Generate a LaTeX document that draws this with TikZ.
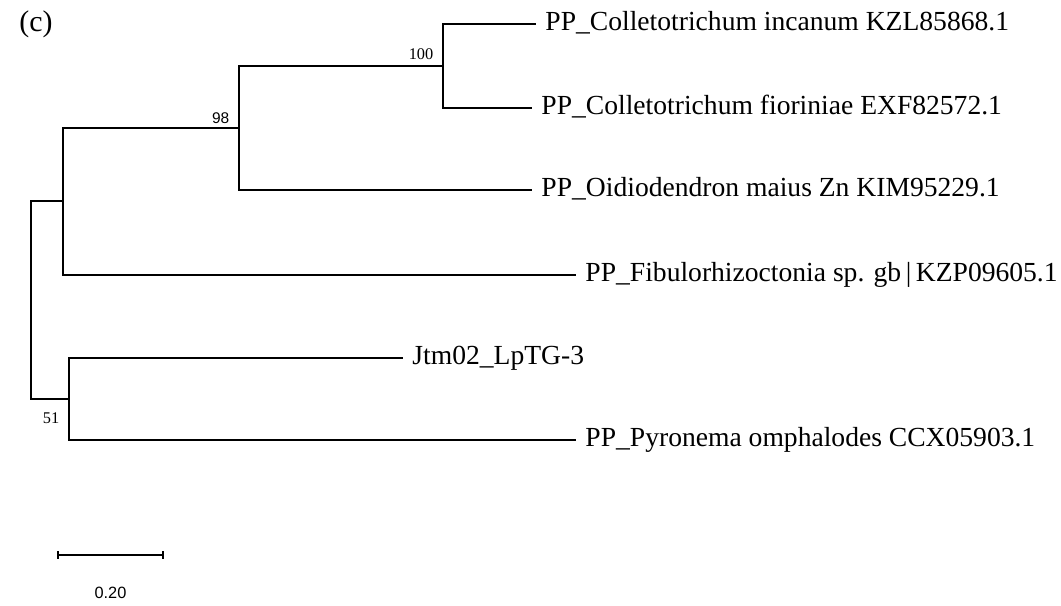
\documentclass[tikz,border=0pt]{standalone}
\usepackage{fontspec}
\setmainfont{Liberation Serif}
\newfontfamily\supportfont{Liberation Sans}
\usepackage{tikz}
\usetikzlibrary{calc}

\begin{document}
\begin{tikzpicture}[
        x=0.02cm, y=-0.02cm,
        line width=0.8pt,
        leaf/.style={anchor=west, inner xsep=5pt, inner ysep=0pt, text height=0.7em, text depth=0pt, font=\fontsize{15.7}{18}\selectfont},
        boot/.style={anchor=base east, inner sep=0pt, font=\fontsize{9.3}{11}\selectfont},
        bootsans/.style={anchor=base east, inner sep=0pt, font=\supportfont\fontsize{8.8}{11}\selectfont}
    ]
        \useasboundingbox (0,0) rectangle (1061,605);
        \node[inner sep=0pt, font=\fontsize{17}{20}\selectfont] (panel) at (36,24) {(c)};

        % internal nodes
        \coordinate (root) at (31,300);
        \coordinate (nA) at (63,201);
        \coordinate (n98) at (239,128);
        \coordinate (n100) at (443,66);
        \coordinate (n51) at (69,399);

        % leaves
        \node[leaf] (incanum) at (536,24) {PP\_Colletotrichum incanum KZL85868.1};
        \node[leaf] (fioriniae) at (532,108) {PP\_Colletotrichum fioriniae EXF82572.1};
        \node[leaf] (oidio) at (532,190) {PP\_Oidiodendron maius Zn KIM95229.1};
        \node[leaf] (fibulo) at (576,275) {PP\_Fibulorhizoctonia sp. gb\,|\,KZP09605.1};
        \node[leaf] (jtm) at (403,358) {Jtm02\_LpTG-3};
        \node[leaf] (pyronema) at (576,440) {PP\_Pyronema omphalodes CCX05903.1};

        \draw (n100) |- (incanum.west);
        \draw (n100) |- (fioriniae.west);
        \draw (n98) |- (n100);
        \draw (n98) |- (oidio.west);
        \draw (nA) |- (n98);
        \draw (nA) |- (fibulo.west);
        \draw (root) |- (nA);
        \draw (root) |- (n51);
        \draw (n51) |- (jtm.west);
        \draw (n51) |- (pyronema.west);

        % support values
        \node[boot] (b100) at ($(n100)+(-9,-7)$) {100};
        \node[bootsans] (b98) at ($(n98)+(-9,-5)$) {98};
        \node[boot] (b51) at ($(n51)+(-9,24)$) {51};

        % scale bar
        \coordinate (barL) at (58,555);
        \coordinate (barR) at (163,555);
        \draw (barL) -- (barR);
        \draw ($(barL)+(0,-4)$) -- ($(barL)+(0,4)$);
        \draw ($(barR)+(0,-4)$) -- ($(barR)+(0,4)$);
        \node[bootsans, anchor=base, font=\supportfont\fontsize{9.3}{11}\selectfont] (barlabel) at ($(barL)!0.5!(barR)+(0,43)$) {0.20};
    \end{tikzpicture}
\end{document}
